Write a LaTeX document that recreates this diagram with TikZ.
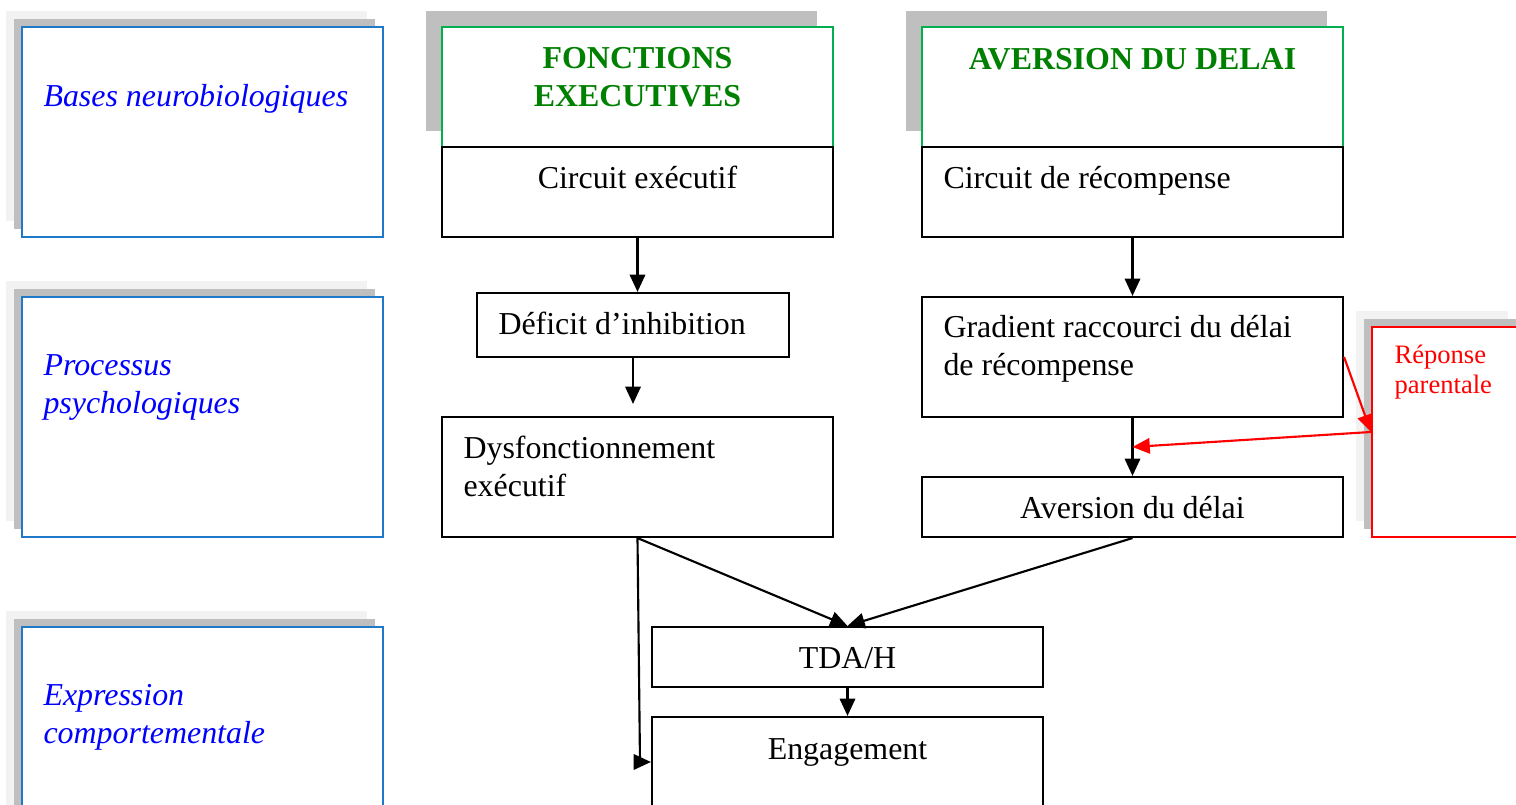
\documentclass[tikz,border=0pt,12pt]{standalone}
\usepackage{fontspec}
\setmainfont{Liberation Serif}
\usetikzlibrary{arrows.meta,fit,shadows}

\definecolor{levelblue}{RGB}{31,120,200}
\definecolor{textblue}{RGB}{0,0,255}
\definecolor{boxgreen}{RGB}{0,176,80}
\definecolor{headgreen}{RGB}{0,128,0}
\definecolor{shadelight}{RGB}{242,242,242}
\definecolor{shadedark}{RGB}{191,191,191}

\tikzset{
	box/.style={draw=black, line width=0.8pt, fill=white, inner sep=0pt},
	levelbox/.style={box, draw=levelblue,
		general shadow={fill=shadelight, shadow xshift=-6pt, shadow yshift=6pt},
		general shadow={fill=shadedark, shadow xshift=-3pt, shadow yshift=3pt}},
	headbox/.style={box, draw=boxgreen,
		general shadow={fill=shadedark, shadow xshift=-6pt, shadow yshift=6pt}},
	plaintxt/.style={inner sep=0pt, anchor=base west, align=left},
	lvltxt/.style={plaintxt, text=textblue, font=\itshape},
	headtxt/.style={inner sep=0pt, anchor=base, align=center, text=headgreen, font=\bfseries},
	reptxt/.style={plaintxt, text=red, font=\fontsize{10}{11.3}\selectfont},
	arr/.style={-{Triangle[length=6.5pt,width=5.8pt]}, line width=0.8pt},
	redarr/.style={arr, draw=red, fill=red}
}

\begin{document}
\begin{tikzpicture}[x=0.376pt, y=-0.376pt]
		\useasboundingbox (0,0) rectangle (1516,805);
		
		% Levels (left column), multi-line texts sit on their last baseline
		\node[levelbox, fit={(22,27)(383,237)}] (bases) {};
		\node[lvltxt] (basesT) at (43,107) {Bases neurobiologiques};
		\node[levelbox, fit={(22,297)(383,537)}] (proc) {};
		\node[lvltxt] (procT) at (43,414) {Processus\\psychologiques};
		\node[levelbox, fit={(22,627)(383,867)}] (expr) {};
		\node[lvltxt] (exprT) at (43,744) {Expression\\comportementale};
		
		% Executive functions
		\node[headbox, fit={(442,27)(833,147)}] (fe) {};
		\node[headtxt] (feT) at (637.5,107) {FONCTIONS\\EXECUTIVES};
		\node[box, fit={(442,147)(833,237)}] (circex) {};
		\node[plaintxt, anchor=base] (circexT) at (637.5,189) {Circuit exécutif};
		\node[box, fit={(477,293)(789,357)}] (deficit) {};
		\node[plaintxt] (deficitT) at (498,335) {Déficit d’inhibition};
		\node[box, fit={(442,417)(833,537)}] (dysf) {};
		\node[plaintxt] (dysfT) at (463,497) {Dysfonctionnement\\exécutif};
		
		% Delay aversion
		\node[headbox, fit={(922,27)(1343,147)}] (ad) {};
		\node[headtxt] (adT) at (1132.5,70) {AVERSION DU DELAI};
		\node[box, fit={(922,147)(1343,237)}] (circrec) {};
		\node[plaintxt] (circrecT) at (943,189) {Circuit de récompense};
		\node[box, fit={(922,297)(1343,417)}] (grad) {};
		\node[plaintxt] (gradT) at (943,376) {Gradient raccourci du délai\\de récompense};
		\node[box, fit={(922,477)(1343,537)}] (aver) {};
		\node[plaintxt, anchor=base] (averT) at (1132.5,519) {Aversion du délai};
		
		% Parental response
		\node[levelbox, draw=red, fit={(1372,327)(1524,537)}] (rep) {};
		\node[reptxt] (repT) at (1394,394) {Réponse\\parentale};
		
		% Outcome
		\node[box, fit={(652,627)(1043,687)}] (tdah) {};
		\node[plaintxt, anchor=base] (tdahT) at (847.5,669) {TDA/H};
		\node[box, fit={(652,717)(1043,837)}] (eng) {};
		\node[plaintxt, anchor=base] (engT) at (847.5,760) {Engagement};
		
		% Arrows
		\draw[arr] (circex.south) -- (circex.south |- deficit.north);
		\draw[arr, shorten >=4.5pt] (deficit.south) -- (deficit.south |- dysf.north);
		\draw[arr] (circrec.south) -- (grad.north);
		\draw[arr] (grad.south) -- coordinate (gradmid) (aver.north);
		\draw[arr] (dysf.south) -- (tdah.north);
		\draw[arr] (aver.south) -- (tdah.north);
		\draw[arr] (tdah.south) -- (eng.north);
		\coordinate (engknee) at (640,762);
		\draw[arr] (dysf.south) -- (engknee) -- (engknee -| eng.west);
		\draw[redarr] (grad.east) -- (rep.west);
		\draw[redarr] (rep.west) -- (gradmid);
	\end{tikzpicture}
\end{document}
